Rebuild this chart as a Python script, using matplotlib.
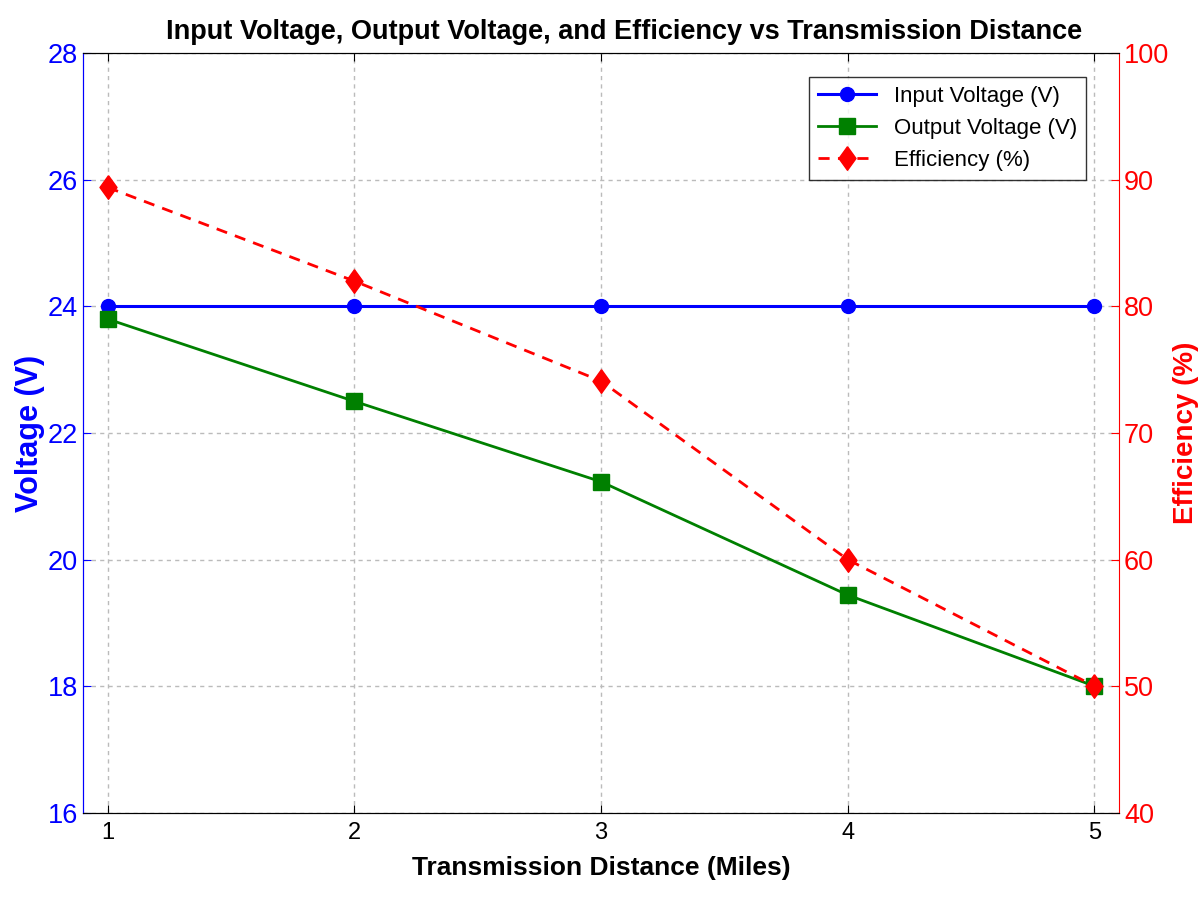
import numpy as np
import matplotlib.pyplot as plt

plt.rcParams['font.family'] = ['Liberation Sans', 'DejaVu Sans']

# data
distance = [1, 2, 3, 4, 5]
input_v = [24, 24, 24, 24, 24]
output_v = [23.8, 22.5, 21.23, 19.44, 18.0]
efficiency = [89.4, 82.0, 74.1, 60.0, 50.0]

# slightly narrow diamond, like the reference marker
diamond = [(0, 1), (0.72, 0), (0, -1), (-0.72, 0), (0, 1)]

fig = plt.figure(figsize=(12.02, 9.02), dpi=100)
ax1 = fig.add_axes([0.069, 0.099, 0.862, 0.842])
ax2 = ax1.twinx()

l1, = ax1.plot(distance, input_v, color='blue', marker='o', markersize=10,
               linewidth=2.2, label='Input Voltage (V)')
l2, = ax1.plot(distance, output_v, color='green', marker='s', markersize=11,
               linewidth=2, label='Output Voltage (V)')
l3, = ax2.plot(distance, efficiency, color='red', marker=diamond, markersize=17,
               linewidth=2, linestyle=(0, (4, 3)), label='Efficiency (%)')

ax1.set_xlim(0.9, 5.1)
ax1.set_ylim(16, 28)
ax2.set_ylim(40, 100)
ax1.set_xticks(distance)
ax1.set_yticks(np.arange(16, 29, 2))
ax2.set_yticks(np.arange(40, 101, 10))

ax1.grid(True, linestyle=(0, (3, 3)), color='#bbbbbb', linewidth=1)
ax1.set_axisbelow(True)

ax1.tick_params(axis='x', direction='in', top=True, labelsize=17, pad=7, length=6)
ax1.tick_params(axis='y', direction='in', colors='blue', labelsize=19.5, length=6)
ax2.tick_params(axis='y', direction='in', colors='red', labelsize=19.5, length=6)

ax1.spines['left'].set_color('blue')
ax2.spines['left'].set_color('blue')
ax2.spines['right'].set_color('red')
ax1.spines['right'].set_visible(False)

ax1.set_xlabel('Transmission Distance (Miles)', fontsize=19, fontweight='bold', labelpad=8)
ax1.set_ylabel('Voltage (V)', fontsize=22, fontweight='bold', color='blue', labelpad=2)
ax2.set_ylabel('Efficiency (%)', fontsize=20, fontweight='bold', color='red', labelpad=3)
ax1.set_title('Input Voltage, Output Voltage, and Efficiency vs Transmission Distance',
              fontsize=19.5, fontweight='bold', pad=10, x=0.522)

leg = ax2.legend(handles=[l1, l2, l3], loc='upper right', fontsize=16,
                 frameon=True, fancybox=False, edgecolor='black',
                 bbox_to_anchor=(0.968, 0.969), borderaxespad=0,
                 handlelength=2.6, labelspacing=0.5)
leg.get_frame().set_linewidth(1)

fig.savefig('out.png', dpi=100)
